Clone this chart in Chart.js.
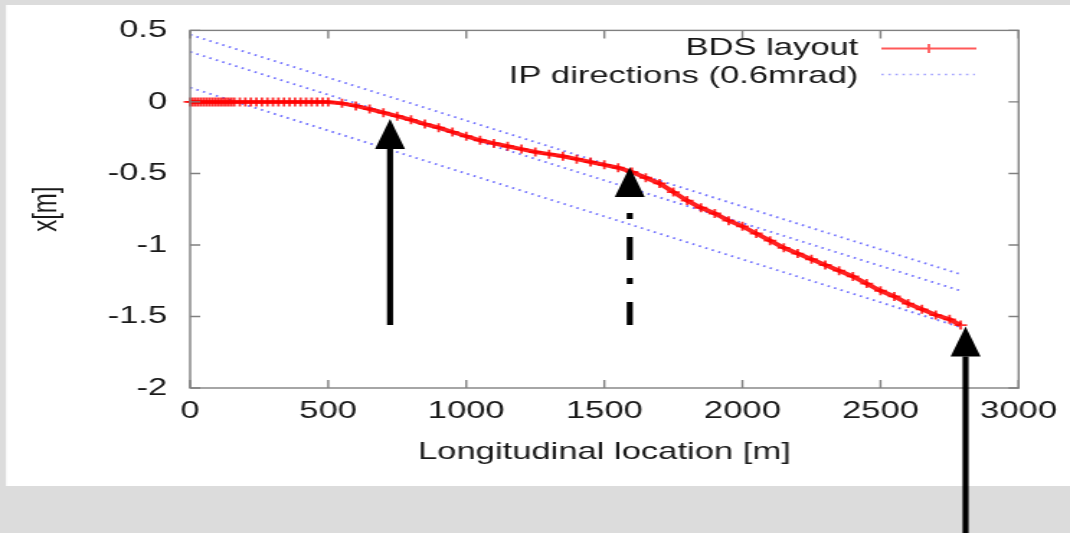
<!DOCTYPE html>
<html>
<head>
<meta charset="utf-8">
<script src="https://cdn.jsdelivr.net/npm/chart.js@4.4.1/dist/chart.umd.min.js"></script>
<style>
  html, body { margin: 0; padding: 0; background: #dcdcdc; overflow: hidden; }
  /* the source picture is stretched sideways, so we draw narrow and stretch too */
  #chart { transform: scaleX(1.4401); transform-origin: 0 0; }
</style>
</head>
<body>
<canvas id="chart" width="743" height="533"></canvas>
<script>
// BDS layout: longitudinal position [m] and transverse x [m]
const bdsPos = [0, 10, 20, 30, 40, 50, 60, 70, 80, 90, 100, 110, 120, 130, 140, 150, 160,
    180, 200, 220, 240, 260, 280, 300, 320, 340, 360, 380, 400, 420, 440, 460, 480, 500,
    550, 600, 650, 700, 750, 800, 850, 900, 950, 1000, 1050, 1100, 1150, 1200, 1250, 1300,
    1350, 1400, 1450, 1500, 1550, 1600, 1650, 1700, 1750, 1800, 1850, 1900, 1950, 2000,
    2050, 2100, 2150, 2200, 2250, 2300, 2350, 2400, 2450, 2500, 2550, 2600, 2650, 2700,
    2750, 2790];
const bdsX = [0, 0, 0, 0, 0, 0, 0, 0, 0, 0, 0, 0, 0, 0, 0, 0, 0,
    0, 0, 0, 0, 0, 0, 0, 0, 0, 0, 0, 0, 0, 0, 0, 0, 0,
    -0.01, -0.028, -0.05, -0.075, -0.10, -0.125, -0.155, -0.18, -0.21, -0.24, -0.268, -0.29,
    -0.31, -0.33, -0.35, -0.365, -0.38, -0.40, -0.42, -0.44, -0.46, -0.49, -0.53, -0.57,
    -0.63, -0.69, -0.74, -0.78, -0.83, -0.87, -0.92, -0.97, -1.02, -1.06, -1.10, -1.14,
    -1.18, -1.22, -1.27, -1.32, -1.36, -1.41, -1.45, -1.49, -1.52, -1.56];

// IP direction lines (0.6 mrad), start and end points
const ipStartPos = 0;
const ipEndPos = 2790;
const ipStartX = [0.47, 0.35, 0.10];
const ipEndX = [-1.205, -1.32, -1.575];

// axis ticks
const xTicks = [0, 500, 1000, 1500, 2000, 2500, 3000];
const yTicks = [0.5, 0, -0.5, -1, -1.5, -2];

// black arrows drawn over the plot (position, tip, tail; null tail = page bottom)
const arrowPos = [724, 1592, 2808];
const arrowTip = [-0.12, -0.455, -1.57];
const arrowTail = [-1.56, -1.56, null];
const arrowDashed = [false, true, false];

const FONT = "'Liberation Sans', Arial, sans-serif";
const AXIS_GRAY = '#808080';
const TEXT = '#1a1a1a';

const datasets = [{
    label: 'BDS layout',
    data: bdsPos.map((p, i) => ({x: p, y: bdsX[i]})),
    borderColor: 'rgba(255, 10, 10, 0.9)',
    backgroundColor: 'rgba(255, 10, 10, 0.9)',
    borderWidth: 4,
    pointStyle: 'cross',
    pointRadius: 4.5,
    pointBorderWidth: 1.8,
    pointBorderColor: 'rgba(255, 0, 0, 0.8)',
    tension: 0,
    clip: false,
    order: 0
}];
ipStartX.forEach((x0, i) => {
    datasets.push({
        label: i === 0 ? 'IP directions (0.6mrad)' : '',
        data: [{x: ipStartPos, y: x0}, {x: ipEndPos, y: ipEndX[i]}],
        borderColor: 'rgba(100, 100, 255, 0.9)',
        borderWidth: 1.8,
        borderDash: [1.6, 3.3],
        pointRadius: 0,
        order: 1
    });
});

const decor = {
    id: 'decor',
    beforeDraw(chart) {
        const ctx = chart.ctx;
        ctx.save();
        ctx.fillStyle = '#dcdcdc';
        ctx.fillRect(0, 0, chart.width, chart.height);
        ctx.fillStyle = '#ffffff';
        ctx.fillRect(4.2, 5, chart.width - 4.2, 481);
        ctx.restore();
    },
    afterDatasetsDraw(chart) {
        const {ctx, chartArea: a, scales} = chart;
        ctx.save();
        ctx.strokeStyle = AXIS_GRAY;
        ctx.lineWidth = 1.4;
        ctx.strokeRect(a.left, a.top, a.right - a.left, a.bottom - a.top);
        ctx.beginPath();
        xTicks.forEach(v => {
            const px = scales.x.getPixelForValue(v);
            ctx.moveTo(px, a.bottom); ctx.lineTo(px, a.bottom - 8);
            ctx.moveTo(px, a.top); ctx.lineTo(px, a.top + 8);
        });
        yTicks.forEach(v => {
            const py = scales.y.getPixelForValue(v);
            ctx.moveTo(a.left, py); ctx.lineTo(a.left + 7, py);
            ctx.moveTo(a.right, py); ctx.lineTo(a.right - 7, py);
        });
        ctx.stroke();
        ctx.restore();
    },
    afterDraw(chart) {
        const {ctx, scales} = chart;
        ctx.save();

        // legend, text right aligned with the sample on its right
        const ds = chart.data.datasets;
        ctx.font = '24px ' + FONT;
        ctx.fillStyle = TEXT;
        ctx.textAlign = 'right';
        ctx.textBaseline = 'middle';
        ctx.fillText(ds[0].label, 596, 48);
        ctx.fillText(ds[1].label, 596, 76);

        ctx.strokeStyle = 'rgba(255, 60, 60, 0.85)';
        ctx.lineWidth = 1.8;
        ctx.beginPath();
        ctx.moveTo(612, 48.5); ctx.lineTo(678, 48.5);
        ctx.moveTo(645, 44); ctx.lineTo(645, 53);
        ctx.stroke();

        ctx.strokeStyle = 'rgba(120, 120, 255, 0.7)';
        ctx.lineWidth = 1.6;
        ctx.setLineDash(ds[1].borderDash);
        ctx.beginPath();
        ctx.moveTo(612, 74.5); ctx.lineTo(677, 74.5);
        ctx.stroke();
        ctx.setLineDash([]);

        // arrows
        ctx.fillStyle = '#000000';
        ctx.strokeStyle = '#000000';
        arrowPos.forEach((p, i) => {
            const px = scales.x.getPixelForValue(p);
            const tip = scales.y.getPixelForValue(arrowTip[i]);
            const base = tip + 30;
            const tail = arrowTail[i] === null ? chart.height : scales.y.getPixelForValue(arrowTail[i]);
            ctx.beginPath();
            ctx.moveTo(px, tip);
            ctx.lineTo(px - 10.4, base);
            ctx.lineTo(px + 10.4, base);
            ctx.closePath();
            ctx.fill();
            ctx.lineWidth = 4.2;
            ctx.beginPath();
            if (arrowDashed[i]) {
                ctx.setLineDash([6, 18, 23, 18]);
                ctx.moveTo(px, base + 16);
            } else {
                ctx.setLineDash([]);
                ctx.moveTo(px, base);
            }
            ctx.lineTo(px, tail);
            ctx.stroke();
        });
        ctx.restore();
    }
};

new Chart(document.getElementById('chart'), {
    type: 'line',
    data: { datasets: datasets },
    plugins: [decor],
    options: {
        responsive: false,
        animation: false,
        devicePixelRatio: 1,
        layout: { padding: { left: 0, top: 29, right: 35.4, bottom: 45 } },
        plugins: { legend: { display: false }, tooltip: { enabled: false } },
        scales: {
            x: {
                type: 'linear',
                min: 0,
                max: 3000,
                afterBuildTicks: s => { s.ticks = xTicks.map(v => ({value: v})); },
                afterFit: s => { s.height = 100; },
                grid: { display: false, drawTicks: false },
                border: { display: false },
                ticks: {
                    font: { family: FONT, size: 24 },
                    color: TEXT,
                    padding: 9,
                    maxRotation: 0,
                    callback: v => String(v)
                },
                title: {
                    display: true,
                    text: 'Longitudinal location [m]',
                    font: { family: FONT, size: 24 },
                    color: TEXT,
                    padding: { top: 0, bottom: 21.6 }
                }
            },
            y: {
                type: 'linear',
                min: -2,
                max: 0.5,
                afterBuildTicks: s => { s.ticks = yTicks.map(v => ({value: v})); },
                afterFit: s => { s.width = 132; },
                grid: { display: false, drawTicks: false },
                border: { display: false },
                ticks: {
                    font: { family: FONT, size: 24 },
                    color: TEXT,
                    padding: 16,
                    callback: v => String(v)
                },
                title: {
                    display: true,
                    text: 'x[m]',
                    font: { family: FONT, size: 24 },
                    color: TEXT,
                    padding: { top: 18, bottom: 0 }
                }
            }
        }
    }
});
</script>
</body>
</html>
